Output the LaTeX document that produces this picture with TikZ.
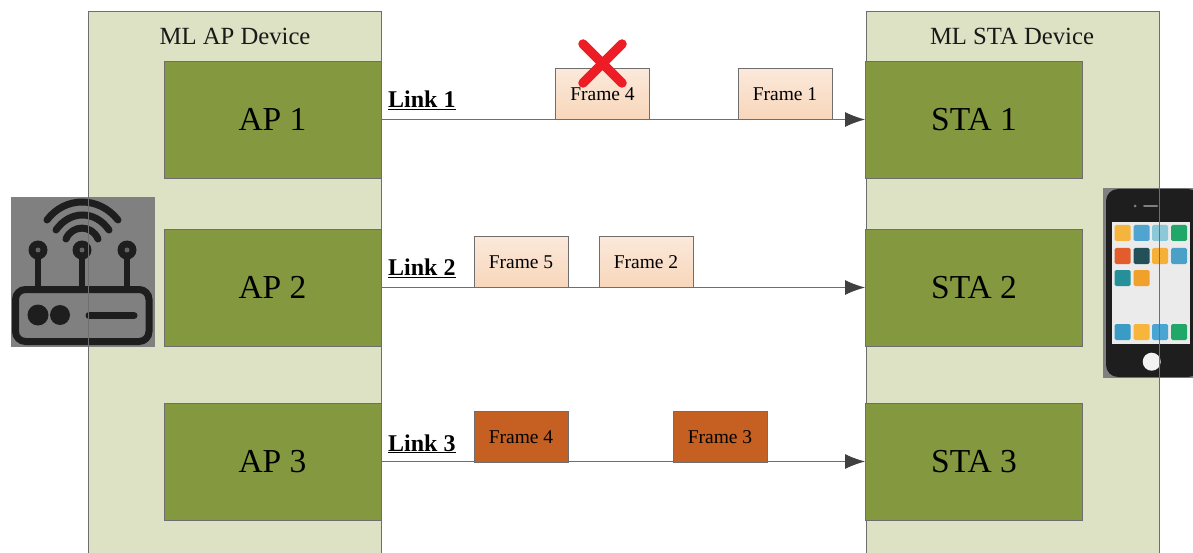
\documentclass[tikz,border=0pt]{standalone}
\usepackage{fontspec}
\setmainfont{Liberation Serif}
\usetikzlibrary{arrows.meta}
\definecolor{panelc}{HTML}{DDE2C4}
\definecolor{greenc}{HTML}{84993F}
\definecolor{edgec}{HTML}{6E6E6E}
\definecolor{iconc}{HTML}{1E1E1E}
\definecolor{greyc}{HTML}{808080}
\definecolor{tipc}{HTML}{404040}
\definecolor{crossc}{HTML}{EE1C25}
\definecolor{flighttop}{HTML}{FBE9DB}
\definecolor{flightbot}{HTML}{F8D6BA}
\definecolor{fdark}{HTML}{C55F22}
\tikzset{
  x=1pt,y=-1pt,
  panel/.style={draw=edgec,line width=0.9pt,fill=panelc,inner sep=0pt,minimum width=293pt,minimum height=549pt},
  devtitle/.style={inner sep=0pt,font=\fontsize{24.7}{26}\selectfont,text=black!90},
  radio/.style={draw=edgec,line width=0.9pt,fill=greenc,inner sep=0pt,minimum width=217pt,minimum height=117pt,font=\fontsize{33.5}{35}\selectfont,text=black},
  frameb/.style={draw=edgec,line width=0.9pt,inner sep=0pt,minimum width=94pt,minimum height=51.5pt,font=\fontsize{19.5}{21}\selectfont,text=black},
  framelight/.style={frameb,top color=flighttop,bottom color=flightbot},
  framedark/.style={frameb,fill=fdark},
  linklabel/.style={inner sep=0pt,anchor=base west,font=\fontsize{24}{26}\selectfont\bfseries},
  linkline/.style={draw=edgec,line width=1pt,-{Latex[length=20pt,width=15pt,color=tipc]}},
  iconline/.style={draw=iconc,line width=7pt,line cap=round},
  appicon/.style={inner sep=0pt,minimum size=16pt,rounded corners=1.5pt}
}
\begin{document}
\begin{tikzpicture}
\useasboundingbox (0,0) rectangle (1193,553);
\clip (0,0) rectangle (1193,553);
% panels
\node[panel] (apdev) at (234.5,285.5) {};
\node[panel] (stadev) at (1012.5,285.5) {};
\node[devtitle] (aptitle) at (235,36) {ML AP Device};
\node[devtitle] (statitle) at (1012,36) {ML STA Device};
% radios
\node[radio] (ap1) at (272.5,119.5) {AP 1};
\node[radio] (ap2) at (272.5,287.5) {AP 2};
\node[radio] (ap3) at (272.5,461.5) {AP 3};
\node[radio] (sta1) at (974,119.5) {STA 1};
\node[radio] (sta2) at (974,287.5) {STA 2};
\node[radio] (sta3) at (974,461.5) {STA 3};
% links
\draw[linkline] (ap1.east) -- (sta1.west);
\draw[linkline] (ap2.east) -- (sta2.west);
\draw[linkline] (ap3.east) -- (sta3.west);
\node[linklabel] (l1) at (388,108) {\underline{Link 1}};
\node[linklabel] (l2) at (388,276) {\underline{Link 2}};
\node[linklabel] (l3) at (388,451) {\underline{Link 3}};
% frames
\node[framelight] (f14) at (602.5,94) {Frame 4};
\node[framelight] (f11) at (785,94) {Frame 1};
\node[framelight] (f25) at (521,262) {Frame 5};
\node[framelight] (f22) at (646,262) {Frame 2};
\node[framedark] (f34) at (521,437) {Frame 4};
\node[framedark] (f33) at (720,437) {Frame 3};
% cross
\draw[draw=crossc,line width=9.5pt,line cap=round] (583,44) -- (622,83) (622,44) -- (583,83);
% router icon
\fill[greyc] (11,197) rectangle (155,347);
\draw[draw=iconc,line width=7pt,rounded corners=10pt] (15.5,289.5) rectangle (149,341.5);
\fill[iconc] (38,315) circle[radius=10.5];
\fill[iconc] (60,315) circle[radius=10];
\draw[iconline] (89,315.5) -- (134,315.5);
\foreach \ax in {38,82,127}{
  \draw[draw=iconc,line width=6pt] (\ax,250) -- (\ax,288);
  \fill[iconc] (\ax,250) circle[radius=9.5];
  \fill[greyc!70!iconc] (\ax,250) circle[radius=2.5];
}
\draw[iconline] (47,220) .. controls (65,196) and (99,196) .. (118,220);
\draw[iconline] (56,230) .. controls (70,210) and (95,210) .. (109,230);
\draw[iconline] (66,239) .. controls (72,224.5) and (92,224.5) .. (98,239);
\draw[edgec,line width=0.9pt] (88,197) -- (88,347);
% phone icon
\fill[greyc] (1103,188) rectangle (1193,378);
\fill[iconc,rounded corners=12pt] (1106,189) rectangle (1200,377);
\fill[black!8] (1112,222) rectangle (1190,344);
\foreach \cx/\cy/\cc in {1122.5/233/F5B43C,1141.5/233/4FA5D0,1160/233/8CC8D8,1179/233/1FA868,
  1122.5/256/E25C2C,1141.5/256/245058,1160/256/F5B03A,1179/256/4BA0C8,
  1122.5/278/25909A,1141.5/278/F2A02C,
  1122.5/332/3A9CC4,1141.5/332/F7B53C,1160/332/4BA5D2,1179/332/1FA868}{
  \definecolor{tmpc}{HTML}{\cc}
  \node[appicon,fill=tmpc] at (\cx,\cy) {};
}
\fill[greyc] (1135,206) circle[radius=1.5];
\draw[greyc,line width=2pt,line cap=round] (1144,206) -- (1157,206);
\fill[black!5] (1151.7,361.7) circle[radius=9];
\draw[edgec,line width=0.9pt] (1159,189) -- (1159,378);
\end{tikzpicture}
\end{document}
